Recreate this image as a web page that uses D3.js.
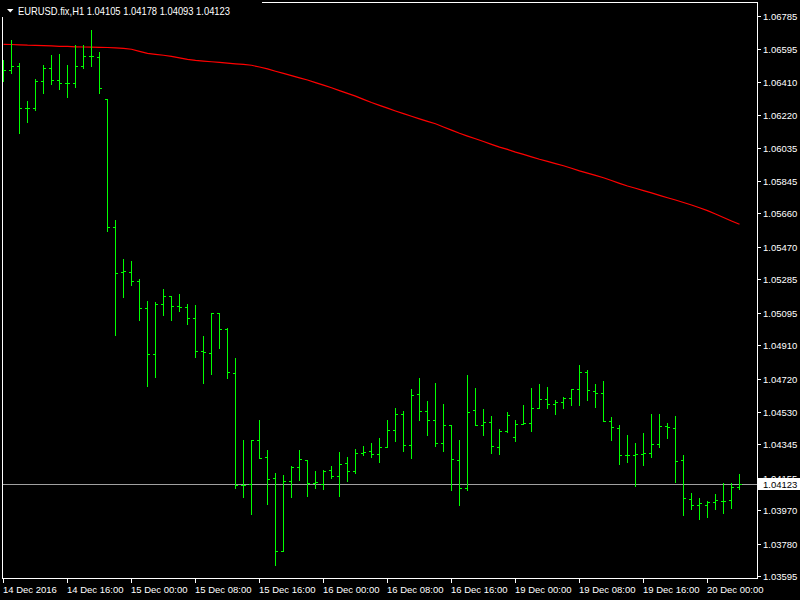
<!DOCTYPE html>
<html>
<head>
<meta charset="utf-8">
<script src="https://cdn.jsdelivr.net/npm/d3@7/dist/d3.min.js"></script>
<style>
  html, body { margin: 0; padding: 0; background: #000; }
  svg { display: block; }
  text { font-family: "Liberation Sans", Arial, sans-serif; }
</style>
</head>
<body>
<script>
// ---- data (EURUSD.fix, H1) ----
const symbolTitle = "EURUSD.fix,H1";
const lastOHLC = [1.04105, 1.04178, 1.04093, 1.04123];

const open = [1.06522,1.06476,1.06497,1.06258,1.06258,1.06412,1.06486,1.06417,1.06400,1.06400,
  1.06497,1.06554,1.06548,1.06309,1.05581,1.05325,1.05325,1.05274,1.05120,1.04858,
  1.05143,1.05188,1.05132,1.05126,1.05063,1.04875,1.04864,1.05092,1.05001,1.04750,
  1.04113,1.04120,1.04371,1.04272,1.04153,1.03737,1.04136,1.04215,1.04255,1.04128,
  1.04119,1.04198,1.04164,1.04238,1.04193,1.04295,1.04306,1.04289,1.04329,1.04426,
  1.04517,1.04341,1.04631,1.04534,1.04483,1.04352,1.04454,1.04255,1.04096,1.04540,
  1.04454,1.04471,1.04329,1.04420,1.04386,1.04460,1.04466,1.04551,1.04602,1.04574,
  1.04585,1.04608,1.04659,1.04756,1.04648,1.04636,1.04477,1.04437,1.04284,1.04284,
  1.04289,1.04295,1.04346,1.04449,1.04437,1.04255,1.04033,1.03999,1.03999,1.04016,
  1.04022,1.04028,1.04105];
const high = [1.06533,1.06647,1.06516,1.06300,1.06425,1.06504,1.06561,1.06567,1.06504,1.06618,
  1.06618,1.06704,1.06578,1.06312,1.05623,1.05401,1.05389,1.05287,1.05162,1.05156,
  1.05230,1.05190,1.05201,1.05145,1.05139,1.04962,1.05093,1.05093,1.05008,1.04837,
  1.04371,1.04371,1.04485,1.04312,1.04181,1.04170,1.04221,1.04312,1.04255,1.04193,
  1.04198,1.04221,1.04301,1.04272,1.04318,1.04335,1.04352,1.04380,1.04485,1.04551,
  1.04534,1.04659,1.04722,1.04593,1.04695,1.04576,1.04454,1.04371,1.04741,1.04667,
  1.04547,1.04507,1.04433,1.04530,1.04483,1.04570,1.04667,1.04689,1.04672,1.04598,
  1.04615,1.04661,1.04797,1.04769,1.04689,1.04706,1.04500,1.04454,1.04397,1.04352,
  1.04409,1.04517,1.04517,1.04466,1.04506,1.04284,1.04067,1.04039,1.04022,1.04062,
  1.04124,1.04124,1.04178];
const low = [1.06415,1.06461,1.06119,1.06182,1.06250,1.06347,1.06398,1.06370,1.06324,1.06381,
  1.06489,1.06501,1.06347,1.05562,1.04968,1.05184,1.05253,1.05054,1.04680,1.04729,
  1.05082,1.05054,1.05105,1.05031,1.04843,1.04695,1.04746,1.04894,1.04724,1.04098,
  1.04046,1.03950,1.04267,1.04008,1.03661,1.03737,1.04048,1.04145,1.04054,1.04099,
  1.04094,1.04156,1.04054,1.04139,1.04185,1.04284,1.04276,1.04247,1.04329,1.04367,
  1.04310,1.04270,1.04483,1.04399,1.04338,1.04310,1.04088,1.04003,1.04088,1.04454,
  1.04399,1.04298,1.04293,1.04415,1.04367,1.04460,1.04424,1.04551,1.04555,1.04520,
  1.04555,1.04572,1.04572,1.04600,1.04560,1.04477,1.04372,1.04236,1.04247,1.04111,
  1.04230,1.04276,1.04333,1.04384,1.04133,1.03946,1.03980,1.03923,1.03934,1.03980,
  1.03957,1.03985,1.04093];
const close = [1.06476,1.06497,1.06258,1.06258,1.06412,1.06486,1.06417,1.06400,1.06400,1.06497,
  1.06554,1.06554,1.06372,1.05581,1.05319,1.05331,1.05274,1.05120,1.04858,1.05143,
  1.05188,1.05132,1.05126,1.05063,1.04875,1.04870,1.05092,1.05004,1.04756,1.04113,
  1.04113,1.04369,1.04267,1.04147,1.03737,1.04136,1.04215,1.04261,1.04128,1.04130,
  1.04193,1.04164,1.04232,1.04193,1.04295,1.04301,1.04289,1.04329,1.04426,1.04517,
  1.04341,1.04625,1.04534,1.04483,1.04352,1.04454,1.04261,1.04096,1.04528,1.04454,
  1.04471,1.04335,1.04420,1.04511,1.04460,1.04466,1.04551,1.04602,1.04574,1.04585,
  1.04608,1.04659,1.04756,1.04654,1.04636,1.04477,1.04443,1.04284,1.04284,1.04289,
  1.04295,1.04346,1.04449,1.04443,1.04250,1.04039,1.03999,1.04010,1.04016,1.04028,
  1.04022,1.04105,1.04123];
const ma = [1.06622,1.06621,1.06619,1.06617,1.06616,1.06615,1.06613,1.06611,1.06610,1.06608,
  1.06607,1.06606,1.06605,1.06604,1.06602,1.06599,1.06594,1.06582,1.06571,1.06565,
  1.06560,1.06554,1.06545,1.06537,1.06531,1.06527,1.06523,1.06519,1.06515,1.06511,
  1.06508,1.06503,1.06493,1.06482,1.06469,1.06457,1.06444,1.06431,1.06419,1.06404,
  1.06390,1.06375,1.06359,1.06343,1.06327,1.06309,1.06291,1.06275,1.06259,1.06243,
  1.06228,1.06213,1.06198,1.06184,1.06170,1.06152,1.06134,1.06116,1.06100,1.06085,
  1.06069,1.06053,1.06037,1.06024,1.06009,1.05996,1.05982,1.05968,1.05956,1.05943,
  1.05931,1.05917,1.05902,1.05889,1.05876,1.05863,1.05847,1.05831,1.05816,1.05803,
  1.05790,1.05777,1.05763,1.05749,1.05736,1.05722,1.05708,1.05692,1.05676,1.05657,
  1.05637,1.05617,1.05598];

const priceTicks = [1.06785,1.06595,1.06410,1.06220,1.06035,1.05845,1.05660,1.05470,1.05285,
  1.05095,1.04910,1.04720,1.04530,1.04345,1.04155,1.03970,1.03780,1.03595];
const timeTickLabels = ["14 Dec 2016","14 Dec 16:00","15 Dec 00:00","15 Dec 08:00","15 Dec 16:00",
  "16 Dec 00:00","16 Dec 08:00","16 Dec 16:00","19 Dec 00:00","19 Dec 08:00","19 Dec 16:00","20 Dec 00:00"];
const timeTickBar = [0,8,16,24,32,40,48,56,64,72,80,88];

// ---- layout ----
const W = 800, H = 600;
const frame = {left: 2.5, top: 2.5, right: 757.5, bottom: 578.5};
const barIdx = d3.range(open.length);

const x = d3.scaleLinear().domain([0, open.length - 1]).range([3, 3 + 8 * (open.length - 1)]);
const y = d3.scaleLinear().domain([1.03595, 1.06785]).range([576.3, 15.7]);
const px = i => Math.round(x(i)) + 0.5;
const py = v => Math.round(y(v)) + 0.5;

const svg = d3.select("body").append("svg")
  .attr("width", W).attr("height", H)
  .style("background", "#000");

svg.append("defs").append("clipPath").attr("id", "plot")
  .append("rect").attr("x", 3).attr("y", 3).attr("width", 754).attr("height", 575);

// frame
svg.append("rect")
  .attr("x", frame.left).attr("y", frame.top)
  .attr("width", frame.right - frame.left).attr("height", frame.bottom - frame.top)
  .attr("fill", "none").attr("stroke", "#fff").attr("stroke-width", 1);

const plot = svg.append("g").attr("clip-path", "url(#plot)");

// bid line
const bidY = py(lastOHLC[3]);
plot.append("line")
  .attr("x1", 3).attr("x2", 757).attr("y1", bidY).attr("y2", bidY)
  .attr("stroke", "#a0a0a0").attr("stroke-width", 1);

// moving average line
plot.append("path")
  .datum(barIdx)
  .attr("fill", "none").attr("stroke", "#ff0000").attr("stroke-width", 1.2)
  .attr("d", d3.line().x(i => x(i) + 0.5).y(i => y(ma[i])));

// OHLC bars
const bars = plot.append("g").attr("stroke", "#00ff00").attr("stroke-width", 1)
  .attr("shape-rendering", "crispEdges");
const bg = bars.selectAll("g").data(barIdx).join("g");
bg.append("line")
  .attr("x1", i => px(i)).attr("x2", i => px(i))
  .attr("y1", i => Math.round(y(high[i]))).attr("y2", i => Math.round(y(low[i])) + 1);
bg.append("line")
  .attr("x1", i => px(i) - 2.5).attr("x2", i => px(i) - 0.5)
  .attr("y1", i => py(open[i])).attr("y2", i => py(open[i]));
bg.append("line")
  .attr("x1", i => px(i) + 0.5).attr("x2", i => px(i) + 2.5)
  .attr("y1", i => py(close[i])).attr("y2", i => py(close[i]));

// price axis (right)
const yAxis = svg.append("g").attr("transform", `translate(${frame.right},0)`)
  .call(d3.axisRight(y).tickValues(priceTicks).tickSize(3).tickPadding(5)
    .tickFormat(d3.format(".5f")));
yAxis.select(".domain").remove();
yAxis.selectAll(".tick").attr("transform", d => `translate(0,${py(d)})`);
yAxis.selectAll(".tick line").attr("stroke", "#fff").attr("shape-rendering", "crispEdges");
yAxis.selectAll(".tick text")
  .attr("fill", "#fff").attr("font-size", "9.5px")
  .attr("font-family", "'Liberation Sans', Arial, sans-serif")
  .attr("x", 5.5).attr("dy", "0.34em");

// time axis (bottom)
const xAxis = svg.append("g").attr("transform", `translate(0,${frame.bottom})`)
  .call(d3.axisBottom(x).tickValues(timeTickBar).tickSize(4)
    .tickFormat((d, k) => timeTickLabels[k]));
xAxis.select(".domain").remove();
xAxis.selectAll(".tick line").attr("stroke", "#fff").attr("shape-rendering", "crispEdges");
xAxis.selectAll(".tick text")
  .attr("fill", "#fff").attr("font-size", "9.5px")
  .attr("font-family", "'Liberation Sans', Arial, sans-serif")
  .attr("text-anchor", "start").attr("x", -0.5).attr("y", 14).attr("dy", 0);

// current price label box
const boxG = svg.append("g");
boxG.append("rect")
  .attr("x", 758).attr("y", bidY - 6.5).attr("width", 42).attr("height", 12)
  .attr("fill", "#fff");
boxG.append("text")
  .attr("x", 763).attr("y", bidY).attr("dy", "0.34em")
  .attr("fill", "#000").attr("font-size", "9.5px")
  .text(d3.format(".5f")(lastOHLC[3]));

// title
const tg = svg.append("g");
tg.append("rect").attr("x", 0).attr("y", 0).attr("width", 262).attr("height", 17).attr("fill", "#000");
tg.append("path").attr("d", "M7,9 L13.5,9 L10.25,12.5 Z").attr("fill", "#fff");
tg.append("text")
  .attr("x", 18).attr("y", 14.5)
  .attr("fill", "#fff").attr("font-size", "10.5px")
  .attr("textLength", 212).attr("lengthAdjust", "spacingAndGlyphs")
  .text(symbolTitle + "  " + lastOHLC.map(d3.format(".5f")).join(" "));
</script>
</body>
</html>
